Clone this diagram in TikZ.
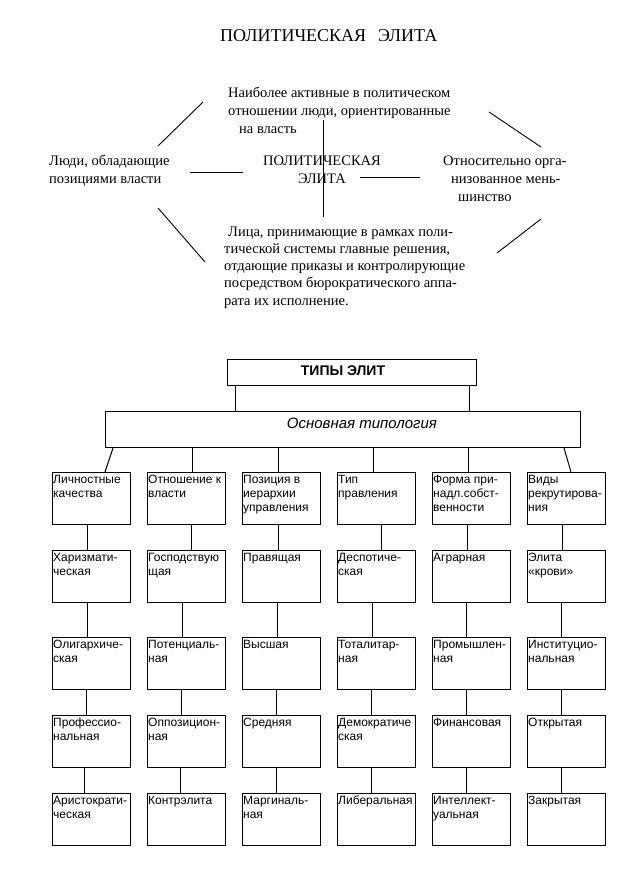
\documentclass[tikz,border=0pt]{standalone}
\usepackage{fontspec}
\setmainfont{Liberation Serif}
\setsansfont{Liberation Sans}
\newcommand\cbox[4]{%
  \node[catbox] (#1) at (#2,#3) {};
  \node[cattext] (#1t) at (#1.north west) {\strut#4};}
\begin{document}
\begin{tikzpicture}[x=1pt,y=-1pt,
  ser/.style={font=\fontsize{14.5}{18}\selectfont, inner sep=0pt, align=left, anchor=base west},
  thinline/.style={line width=0.9pt},
  boxline/.style={line width=1pt},
  catbox/.style={draw, boxline, anchor=north west, minimum width=78pt, minimum height=52pt, inner sep=0pt},
  cattext/.style={anchor=north west, inner xsep=1pt, inner ysep=1.7pt, align=left, font=\sffamily\fontsize{12}{14}\selectfont},
]
\useasboundingbox (0,0) rectangle (634,870);

% ---------- top part ----------
\node[font=\fontsize{18}{22}\selectfont, inner sep=0pt, anchor=base west] (title) at (220,41.5) {ПОЛИТИЧЕСКАЯ\hspace{12pt}ЭЛИТА};

% base anchor of a multi-line node = baseline of its last line
\node[ser] (top) at (228,133) {Наиболее активные в политическом\\отношении люди, ориентированные\\\hspace*{11pt}на власть};
\node[ser] (left) at (49,183) {Люди, обладающие\\позициями власти};
\node[ser, align=center, anchor=base] (center) at (322,183) {ПОЛИТИЧЕСКАЯ\\ЭЛИТА};
\node[ser] (right) at (443,201) {Относительно орга-\\\hspace*{8pt}низованное мень-\\\hspace*{15pt}шинство};
\node[ser, font=\fontsize{14.5}{17.2}\selectfont] (bottom) at (224,305) {\hspace*{4pt}Лица, принимающие в рамках поли-\\тической системы главные решения,\\отдающие приказы и контролирующие\\посредством бюрократического аппа-\\рата их исполнение.};

\coordinate (ul1) at (158,146); \coordinate (ul2) at (203,102);
\coordinate (ll1) at (158,208); \coordinate (ll2) at (205,262);
\coordinate (ur1) at (489,112); \coordinate (ur2) at (541,147);
\coordinate (lr1) at (541,219); \coordinate (lr2) at (497,253);
\coordinate (vt) at (323,120);  \coordinate (vb) at (323,217);
\coordinate (hl1) at (190,172); \coordinate (hl2) at (243,172);
\coordinate (hr1) at (360,177); \coordinate (hr2) at (420,177);
\draw[thinline] (ul1) -- (ul2);
\draw[thinline] (ll1) -- (ll2);
\draw[thinline] (ur1) -- (ur2);
\draw[thinline] (lr1) -- (lr2);
\draw[thinline] (vt) -- (vb);
\draw[thinline] (hl1) -- (hl2);
\draw[thinline] (hr1) -- (hr2);

% ---------- lower part ----------
\node[draw, boxline, anchor=north west, minimum width=249pt, minimum height=26pt, inner sep=0pt] (types) at (227,359) {};
\node[font=\sffamily\bfseries\fontsize{14}{16}\selectfont, inner sep=0pt] (typest) at (343,371) {ТИПЫ ЭЛИТ};
\node[draw, boxline, anchor=north west, minimum width=475pt, minimum height=36pt, inner sep=0pt] (basic) at (105,411) {};
\node[font=\sffamily\itshape\fontsize{15}{18}\selectfont, inner sep=0pt] (basict) at (362,423) {Основная типология};

\draw[boxline] ([xshift=8pt]types.south west) -- ([xshift=8pt]types.south west |- basic.north);
\draw[boxline] ([xshift=-8pt]types.south east) -- ([xshift=-8pt]types.south east |- basic.north);

% row 1
\cbox{c11}{52}{472}{Личностные\\качества}
\cbox{c12}{147}{472}{Отношение к\\власти}
\cbox{c13}{242}{472}{Позиция в\\иерархии\\управления}
\cbox{c14}{337}{472}{Тип\\правления}
\cbox{c15}{432}{472}{Форма при-\\надл.собст-\\венности}
\cbox{c16}{527}{472}{Виды\\рекрутирова-\\ния}
% row 2
\cbox{c21}{52}{550}{Харизмати-\\ческая}
\cbox{c22}{147}{550}{Господствую\\щая}
\cbox{c23}{242}{550}{Правящая}
\cbox{c24}{337}{550}{Деспотиче-\\ская}
\cbox{c25}{432}{550}{Аграрная}
\cbox{c26}{527}{550}{Элита\\«крови»}
% row 3
\cbox{c31}{52}{637}{Олигархиче-\\ская}
\cbox{c32}{147}{637}{Потенциаль-\\ная}
\cbox{c33}{242}{637}{Высшая}
\cbox{c34}{337}{637}{Тоталитар-\\ная}
\cbox{c35}{432}{637}{Промышлен-\\ная}
\cbox{c36}{527}{637}{Институцио-\\нальная}
% row 4
\cbox{c41}{52}{715}{Профессио-\\нальная}
\cbox{c42}{147}{715}{Оппозицион-\\ная}
\cbox{c43}{242}{715}{Средняя}
\cbox{c44}{337}{715}{Демократиче\\ская}
\cbox{c45}{432}{715}{Финансовая}
\cbox{c46}{527}{715}{Открытая}
% row 5
\cbox{c51}{52}{793}{Аристократи-\\ческая}
\cbox{c52}{147}{793}{Контрэлита}
\cbox{c53}{242}{793}{Маргиналь-\\ная}
\cbox{c54}{337}{793}{Либеральная}
\cbox{c55}{432}{793}{Интеллект-\\уальная}
\cbox{c56}{527}{793}{Закрытая}

% connectors from the typology box
\draw[boxline] ([xshift=8pt]basic.south west) -- ([xshift=53pt]c11.north west);
\draw[boxline] ([xshift=45pt]c12.north west |- basic.south) -- ([xshift=45pt]c12.north west);
\draw[boxline] ([xshift=36pt]c13.north west |- basic.south) -- ([xshift=36pt]c13.north west);
\draw[boxline] ([xshift=36pt]c14.north west |- basic.south) -- ([xshift=36pt]c14.north west);
\draw[boxline] ([xshift=36pt]c15.north west |- basic.south) -- ([xshift=36pt]c15.north west);
\draw[boxline] ([xshift=-17pt]basic.south east) -- ([xshift=44pt]c16.north west);

% connectors between rows
\foreach \c/\a/\b/\d/\e in {1/35/35/34/32, 2/44/35/34/33, 3/36/35/34/34, 4/44/35/34/34, 5/35/34/34/34, 6/35/34/34/34}{
  \draw[boxline] ([xshift=\a pt]c1\c.south west) -- ([xshift=\a pt]c2\c.north west);
  \draw[boxline] ([xshift=\b pt]c2\c.south west) -- ([xshift=\b pt]c3\c.north west);
  \draw[boxline] ([xshift=\d pt]c3\c.south west) -- ([xshift=\d pt]c4\c.north west);
  \draw[boxline] ([xshift=\e pt]c4\c.south west) -- ([xshift=\e pt]c5\c.north west);
}
\end{tikzpicture}
\end{document}
